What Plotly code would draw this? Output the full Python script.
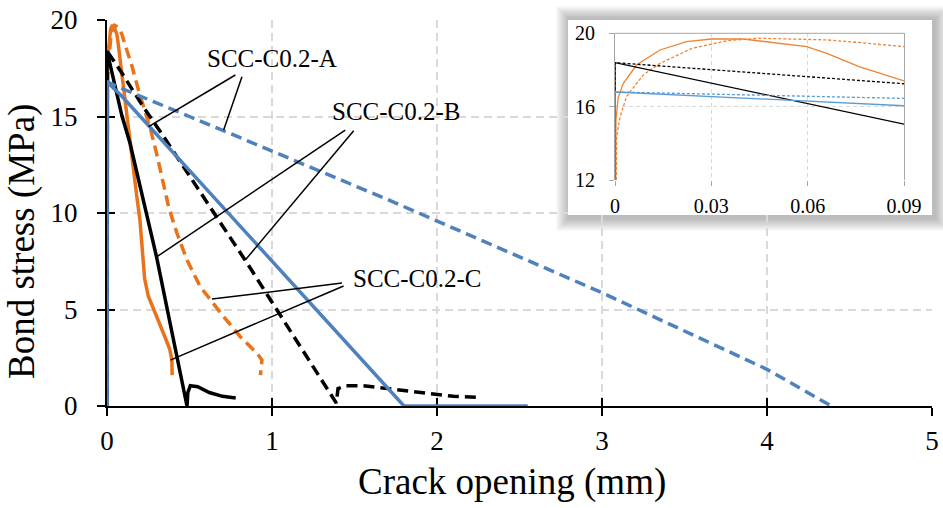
import plotly.graph_objects as go

# ---------------- data ----------------
LABELS = ["SCC-C0.2-A", "SCC-C0.2-B", "SCC-C0.2-C"]

X_TICKS = [0, 1, 2, 3, 4, 5]
Y_TICKS = [0, 5, 10, 15, 20]
INSET_X_TICKS = [0, 0.03, 0.06, 0.09]
INSET_X_LABELS = ["0", "0.03", "0.06", "0.09"]
INSET_Y_TICKS = [12, 16, 20]

# SCC-C0.2-A (blue)
a_solid_x = [0, 0, 0.09, 1.80, 2.55]
a_solid_y = [0, 16.8, 16.05, 0, 0]
a_dash_x = [0, 0, 0.09, 0.50, 1.70, 3.00, 4.00, 4.39]
a_dash_y = [0, 16.8, 16.45, 15.0, 10.7, 5.87, 1.9, 0]

# SCC-C0.2-B (black)
b_solid_x = [0, 0, 0.09, 0.14, 0.30, 0.485, 0.49, 0.505, 0.55, 0.62, 0.70, 0.78]
b_solid_y = [0, 18.4, 15.05, 13.6, 7.74, 0, 0.7, 1.05, 1.0, 0.7, 0.5, 0.42]
b_dash_x = [0, 0, 0.09, 0.22, 0.34, 0.85, 1.39, 1.40, 1.45, 1.55, 1.70, 1.90, 2.10, 2.24]
b_dash_y = [0, 18.4, 17.25, 15.5, 14.0, 7.39, 0.15, 0.9, 1.05, 1.05, 0.9, 0.7, 0.5, 0.45]

# SCC-C0.2-C (orange)
c_solid_x = [0, 0.0003, 0.001, 0.0026, 0.0067, 0.014, 0.0223, 0.030, 0.040, 0.047,
             0.0597, 0.066, 0.076, 0.090, 0.100, 0.120, 0.140, 0.160, 0.180, 0.200,
             0.215, 0.228, 0.250, 0.280, 0.310, 0.350, 0.380, 0.393, 0.395]
c_solid_y = [0, 15.3, 16.5, 17.27, 18.27, 19.09, 19.55, 19.69, 19.69, 19.55,
             19.27, 18.9, 18.18, 17.4, 16.7, 15.1, 13.5, 12.0, 10.9, 9.6,
             7.9, 6.6, 5.7, 5.1, 4.5, 3.6, 2.95, 2.4, 1.6]
c_dash_x = [0, 0.0005, 0.0016, 0.0036, 0.0088, 0.014, 0.024, 0.035, 0.045, 0.0555,
            0.066, 0.076, 0.090, 0.110, 0.150, 0.190, 0.230, 0.265, 0.300, 0.333,
            0.374, 0.424, 0.485, 0.565, 0.626, 0.707, 0.808, 0.909, 0.939, 0.935, 0.930]
c_dash_y = [0, 14.36, 15.45, 16.55, 17.73, 18.36, 19.18, 19.6, 19.73, 19.69,
            19.64, 19.5, 19.27, 18.7, 17.65, 16.4, 15.3, 14.3, 13.1, 11.9,
            10.3, 8.95, 7.56, 6.18, 5.49, 4.63, 3.59, 2.73, 2.38, 1.9, 1.6]

# ---------------- styling ----------------
W, H = 943, 508
ML, MR, MT, MB = 107, 11, 20, 102
PW, PH = W - ML - MR, H - MT - MB
FONT = "Liberation Serif, Times New Roman, serif"
BLUE, BLACK, ORANGE = "#4F81BD", "#000000", "#E8731A"
BLUE_IN, ORANGE_IN = "#5B9BD5", "#F08232"


def px_x(px):
    return (px - ML) / PW


def px_y(py):
    return (H - MB - py) / PH


series = [
    (c_solid_x, c_solid_y, ORANGE, ORANGE_IN, False),
    (c_dash_x, c_dash_y, ORANGE, ORANGE_IN, True),
    (b_solid_x, b_solid_y, BLACK, BLACK, False),
    (b_dash_x, b_dash_y, BLACK, BLACK, True),
    (a_solid_x, a_solid_y, BLUE, BLUE_IN, False),
    (a_dash_x, a_dash_y, BLUE, BLUE_IN, True),
]

fig = go.Figure()

# main plot
for x, y, col, _, dashed in series:
    fig.add_trace(go.Scatter(
        x=x, y=y, mode="lines", xaxis="x", yaxis="y",
        line=dict(color=col, width=3.5, dash="11px,6px" if dashed else "solid"),
        hoverinfo="skip", showlegend=False))

# white box behind inset (separate subplot so its background hides the main grid)
fig.add_trace(go.Scatter(x=[], y=[], xaxis="x2", yaxis="y2", showlegend=False))

# inset
for x, y, _, col, dashed in series:
    fig.add_trace(go.Scatter(
        x=x, y=y, mode="lines", xaxis="x3", yaxis="y3",
        line=dict(color=col, width=1.3, dash="3px,2px" if dashed else "solid"),
        hoverinfo="skip", showlegend=False))

# overlay axes for the inner half of the crossing tick marks
fig.add_trace(go.Scatter(x=[], y=[], xaxis="x4", yaxis="y", showlegend=False))
fig.add_trace(go.Scatter(x=[], y=[], xaxis="x", yaxis="y4", showlegend=False))

main_ax = dict(
    showline=True, linecolor="black", linewidth=2,
    ticks="outside", ticklen=8, tickwidth=1.5, tickcolor="black",
    showgrid=True, gridcolor="#D9D9D9", gridwidth=1.5, griddash="8px,5px",
    zeroline=False, layer="below traces", automargin=False,
    tickfont=dict(family=FONT, size=27, color="black"),
)
inner_ax = dict(
    ticks="inside", ticklen=8, tickwidth=1.5, tickcolor="black",
    showticklabels=False, showgrid=False, showline=False, zeroline=False,
    layer="below traces", automargin=False,
)
blank_ax = dict(showgrid=False, showline=False, showticklabels=False,
                zeroline=False, ticks="", range=[0, 1], fixedrange=True,
                automargin=False)
inset_ax = dict(
    ticks="outside", ticklen=5, tickwidth=1, tickcolor="#A6A6A6",
    showgrid=True, gridcolor="#D9D9D9", gridwidth=1, griddash="4px,3px",
    zeroline=False, automargin=False,
    tickfont=dict(family=FONT, size=20, color="black"),
)

box_x0, box_x1 = px_x(568), 1.0
box_y0, box_y1 = px_y(215), 1.0

fig.update_layout(
    template="none",
    width=W, height=H, autosize=False,
    margin=dict(l=ML, r=MR, t=MT, b=MB, autoexpand=False),
    paper_bgcolor="white", plot_bgcolor="white",
    font=dict(family=FONT, color="black"),
    showlegend=False,
    xaxis=dict(domain=[0, 1], range=[0, 5], tickvals=X_TICKS, anchor="y",
               ticklabelstandoff=2, **main_ax),
    yaxis=dict(domain=[0, 1], range=[0, 20], tickvals=Y_TICKS, anchor="x",
               ticklabelstandoff=14, **main_ax),
    xaxis2=dict(domain=[box_x0, box_x1], anchor="y2", **blank_ax),
    yaxis2=dict(domain=[box_y0, box_y1], anchor="x2", **blank_ax),
    xaxis3=dict(domain=[px_x(615), px_x(904)], anchor="y3", range=[0, 0.09],
                tickvals=INSET_X_TICKS, ticktext=INSET_X_LABELS, showline=False,
                ticklabelstandoff=3, **inset_ax),
    yaxis3=dict(domain=[px_y(180), px_y(33.3)], anchor="x3", range=[12, 20],
                tickvals=INSET_Y_TICKS, showline=True, mirror=True,
                linecolor="#A6A6A6", linewidth=1, ticklabelstandoff=10, **inset_ax),
    xaxis4=dict(overlaying="x", anchor="y", range=[0, 5], tickvals=X_TICKS, **inner_ax),
    yaxis4=dict(overlaying="y", anchor="x", side="left", range=[0, 20],
                tickvals=Y_TICKS, **inner_ax),
)

shapes = []
# soft shadow around the inset box
bx0, bx1, by0, by1 = 568, 933, 18, 215
for i in range(1, 9):
    e = 1.6 * i
    shapes.append(dict(
        type="rect", xref="paper", yref="paper", layer="below",
        x0=px_x(bx0 - e + 1), x1=px_x(bx1 + e + 2),
        y0=px_y(by1 + e + 3), y1=px_y(by0 - e + 1),
        fillcolor="rgba(0,0,0,0.035)", line=dict(width=0)))
# top border of inset plot
shapes.append(dict(type="line", xref="x3 domain", yref="y3 domain",
                   x0=0, x1=1, y0=1, y1=1, line=dict(color="#A6A6A6", width=1)))
# leader lines from labels to curves
leaders = [
    ((0.778, 17.15), (0.252, 14.47)),
    ((0.818, 17.06), (0.707, 14.30)),
    ((1.444, 14.30), (0.303, 7.74)),
    ((1.495, 14.26), (0.838, 7.56)),
    ((1.424, 6.37), (0.636, 5.54)),
    ((1.434, 6.22), (0.384, 2.38)),
]
for (x0, y0), (x1, y1) in leaders:
    shapes.append(dict(type="line", xref="x", yref="y", x0=x0, y0=y0, x1=x1, y1=y1,
                       line=dict(color="black", width=1.5), layer="above"))
fig.update_layout(shapes=shapes)

label_pos = [(1.0, 18.03), (1.753, 15.28), (1.88, 6.63)]
annotations = []
for txt, (lx, ly) in zip(LABELS, label_pos):
    annotations.append(dict(text=txt, x=lx, y=ly, xref="x", yref="y",
                            showarrow=False, xanchor="center", yanchor="middle",
                            font=dict(family=FONT, size=25, color="black")))
annotations.append(dict(text="Crack opening (mm)", x=px_x(512), y=px_y(482),
                        xref="paper", yref="paper", showarrow=False,
                        xanchor="center", yanchor="middle",
                        font=dict(family=FONT, size=37, color="black")))
annotations.append(dict(text="Bond stress (MPa)", x=px_x(22), y=px_y(242),
                        xref="paper", yref="paper", showarrow=False, textangle=-90,
                        xanchor="center", yanchor="middle",
                        font=dict(family=FONT, size=37, color="black")))
fig.update_layout(annotations=annotations)

fig.write_html("out.html")
